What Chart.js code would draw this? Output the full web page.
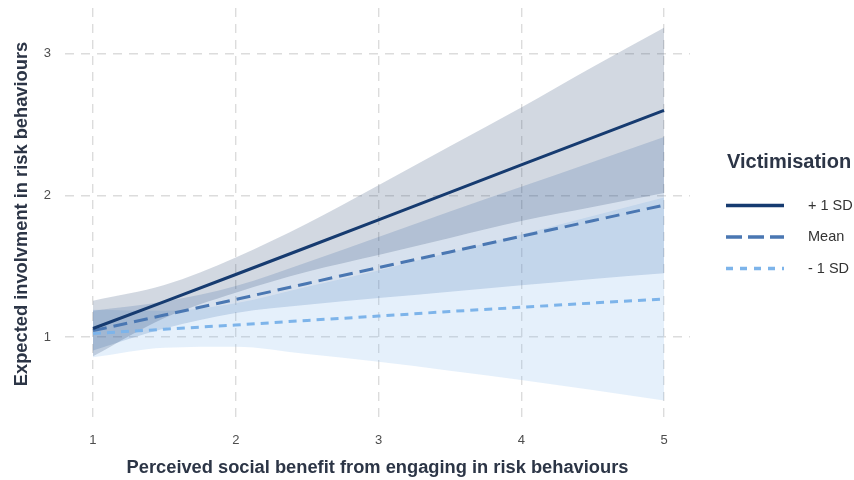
<!DOCTYPE html>
<html>
<head>
<meta charset="utf-8">
<script src="https://cdn.jsdelivr.net/npm/chart.js@4.4.1/dist/chart.umd.min.js"></script>
<style>
  html, body { margin: 0; padding: 0; background: #fff; }
  #wrap { width: 854px; height: 480px; }
</style>
</head>
<body>
<div id="wrap"><canvas id="jsLineChart" width="854" height="480"></canvas></div>
<script>
(function () {
    "use strict";

    // predictor values (perceived social benefit)
    const benefit = [1, 1.5, 2, 2.5, 3, 3.5, 4, 4.5, 5];
    const xTicks = [1, 2, 3, 4, 5];
    const yTicks = [1, 2, 3];

    // predicted involvement per victimisation level
    const plusSD  = [1.06, 1.25, 1.441, 1.633, 1.826, 2.02, 2.214, 2.406, 2.598];
    const meanV   = [1.045, 1.155, 1.265, 1.378, 1.49, 1.6, 1.71, 1.82, 1.93];
    const minusSD = [1.025, 1.055, 1.085, 1.117, 1.148, 1.18, 1.21, 1.24, 1.268];

    // confidence band limits
    const plusSDHi = [1.256, 1.366, 1.561, 1.80, 2.07, 2.345, 2.618, 2.904, 3.18];
    const plusSDLo = [0.864, 1.134, 1.313, 1.46, 1.578, 1.699, 1.818, 1.916, 2.016];
    const meanHi   = [1.185, 1.25, 1.36, 1.528, 1.705, 1.885, 2.06, 2.235, 2.41];
    const meanLo   = [0.905, 1.06, 1.17, 1.228, 1.275, 1.32, 1.365, 1.41, 1.45];
    const minusHi  = [1.193, 1.185, 1.238, 1.354, 1.47, 1.597, 1.723, 1.853, 1.984];
    const minusLo  = [0.857, 0.925, 0.932, 0.88, 0.826, 0.763, 0.697, 0.627, 0.552];

    const legendTitle = 'Victimisation';
    const levels = ['+ 1 SD', 'Mean', '- 1 SD'];
    const lineColors = ['#163b70', '#4a77b2', '#7db4ea'];
    const bandColors = ['rgba(30,60,105,0.20)', 'rgba(74,119,178,0.22)', 'rgba(125,180,234,0.20)'];
    const dashes = [[], [14, 7], [8, 6]];
    const legendDashes = [[], [16, 6], [7, 7]];

    const pts = arr => arr.map((v, i) => ({ x: benefit[i], y: v }));

    const bands = [[plusSDHi, plusSDLo], [meanHi, meanLo], [minusHi, minusLo]];
    const lines = [plusSD, meanV, minusSD];

    const datasets = [];
    bands.forEach((b, k) => {
        datasets.push({
            label: 'band-hi-' + k,
            data: pts(b[0]),
            borderWidth: 0,
            pointRadius: 0,
            cubicInterpolationMode: 'monotone',
            backgroundColor: bandColors[k],
            fill: '+1',
            order: 10
        });
        datasets.push({
            label: 'band-lo-' + k,
            data: pts(b[1]),
            borderWidth: 0,
            pointRadius: 0,
            cubicInterpolationMode: 'monotone',
            fill: false,
            order: 10
        });
    });
    lines.forEach((l, k) => {
        datasets.push({
            label: levels[k],
            data: pts(l),
            borderColor: lineColors[k],
            backgroundColor: lineColors[k],
            borderWidth: 3,
            borderDash: dashes[k],
            pointRadius: 0,
            tension: 0,
            fill: false,
            order: 1
        });
    });

    // legend drawn beside the plot, ggplot style
    const sideLegend = {
        id: 'sideLegend',
        afterDraw(chart) {
            const ctx = chart.ctx;
            const x0 = chart.chartArea.right + 36;
            ctx.save();
            ctx.textBaseline = 'middle';
            ctx.fillStyle = '#2c3546';
            ctx.font = 'bold 20px "Liberation Sans"';
            ctx.fillText(legendTitle, x0 + 1, 162);
            ctx.font = '14.5px "Liberation Sans"';
            levels.forEach((lab, k) => {
                const y = 205.5 + k * 31.5;
                ctx.strokeStyle = lineColors[k];
                ctx.lineWidth = 3.5;
                ctx.setLineDash(legendDashes[k]);
                ctx.beginPath();
                ctx.moveTo(x0, y);
                ctx.lineTo(x0 + 58, y);
                ctx.stroke();
                ctx.fillStyle = '#333333';
                ctx.fillText(lab, x0 + 82, y);
            });
            ctx.restore();
        }
    };

    const gridDash = {
        color: '#dcdcdc',
        lineWidth: 1.4,
        drawTicks: false
    };

    let jsLineChart = document.getElementById("jsLineChart");
    new Chart(jsLineChart, {
        type: 'line',
        data: { datasets: datasets },
        plugins: [sideLegend],
        options: {
            responsive: false,
            animation: false,
            layout: { padding: { top: 8, left: 7, bottom: 1, right: 164 } },
            scales: {
                x: {
                    type: 'linear',
                    min: 0.804,
                    max: 5.182,
                    border: { display: false, dash: [9, 7] },
                    grid: gridDash,
                    afterBuildTicks: axis => { axis.ticks = xTicks.map(v => ({ value: v })); },
                    afterFit: axis => { axis.height = 59; },
                    ticks: { color: '#4d4d4d', font: { family: 'Liberation Sans', size: 13 }, padding: 13 },
                    title: {
                        display: true,
                        text: 'Perceived social benefit from engaging in risk behaviours',
                        color: '#2c3546',
                        font: { family: 'Liberation Sans', size: 18.3, weight: 'bold' },
                        padding: { top: 0, bottom: 0 }
                    }
                },
                y: {
                    min: 0.415,
                    max: 3.32,
                    border: { display: false, dash: [9, 7] },
                    grid: gridDash,
                    afterBuildTicks: axis => { axis.ticks = yTicks.map(v => ({ value: v })); },
                    afterFit: axis => { axis.paddingTop = 0; axis.paddingBottom = 0; axis.width = 58; },
                    ticks: { color: '#4d4d4d', font: { family: 'Liberation Sans', size: 13 }, padding: 14 },
                    title: {
                        display: true,
                        text: 'Expected involvment in risk behaviours',
                        color: '#2c3546',
                        font: { family: 'Liberation Sans', size: 18.3, weight: 'bold' },
                        padding: { top: 4, bottom: 0 }
                    }
                }
            },
            plugins: {
                tooltip: { enabled: false },
                legend: { display: false }
            }
        }
    });
})();
</script>
</body>
</html>
